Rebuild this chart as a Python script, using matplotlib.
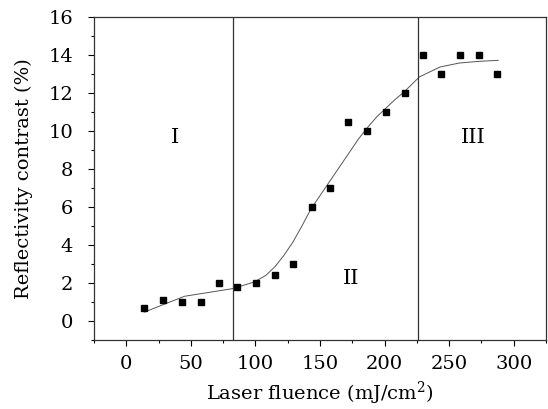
import numpy as np
import matplotlib.pyplot as plt
from matplotlib.ticker import MultipleLocator

# measured points
fluence = [14, 28.5, 43, 57.5, 72, 86, 100.5, 115, 129, 143.5,
           158, 172, 186.5, 201, 215.5, 230, 244, 258.5, 273, 287]
contrast = [0.7, 1.1, 1.0, 1.0, 2.0, 1.8, 2.0, 2.4, 3.0, 6.0,
            7.0, 10.5, 10.0, 11.0, 12.0, 14.0, 13.0, 14.0, 14.0, 13.0]

# fitted curve
fit_x = [14, 45, 82, 99, 108, 115, 122, 129, 136, 143, 150, 157, 165, 173, 180, 187,
         194, 201, 208, 215, 227, 243, 258, 274, 288]
fit_y = [0.47, 1.3, 1.7, 2.05, 2.4, 2.85, 3.45, 4.15, 5.0, 5.9, 6.6, 7.3, 8.1, 8.9, 9.6, 10.2,
         10.75, 11.2, 11.65, 12.05, 12.85, 13.37, 13.58, 13.67, 13.72]

# region borders and labels
borders = [82.5, 226]
regions = ["I", "II", "III"]
region_x = [38, 174, 269]
region_y = [9.67, 2.25, 9.67]

plt.rcParams['font.family'] = ['DejaVu Serif']
plt.rcParams['mathtext.fontset'] = 'dejavuserif'

fig = plt.figure(figsize=(5.48, 4.09), dpi=100)
ax = fig.add_axes([0.1715, 0.1687, 0.8249, 0.7897])

ax.plot(fit_x, fit_y, color='#555555', lw=0.7)
ax.plot(fluence, contrast, 's', color='black', markersize=5)
for b in borders:
    ax.axvline(b, color='#333333', lw=0.9)
for t, x, y in zip(regions, region_x, region_y):
    ax.text(x, y, t, fontsize=15, ha='center', va='center')

ax.set_xlim(-25, 325)
ax.set_ylim(-1, 16)
ax.xaxis.set_major_locator(MultipleLocator(50))
ax.xaxis.set_minor_locator(MultipleLocator(25))
ax.yaxis.set_major_locator(MultipleLocator(2))
ax.yaxis.set_minor_locator(MultipleLocator(1))
ax.tick_params(which='major', length=4, labelsize=14, width=0.8)
ax.tick_params(which='minor', length=2, width=0.8)
ax.tick_params(axis='x', which='major', pad=7)
ax.tick_params(axis='y', which='major', pad=11)
for s in ax.spines.values():
    s.set_color('#333333')
    s.set_linewidth(0.9)

ax.set_xlabel('Laser fluence (mJ/cm$^2$)', fontsize=14, labelpad=5)
ax.set_ylabel('Reflectivity contrast (%)', fontsize=14, labelpad=11)

fig.savefig('out.png', dpi=100)
